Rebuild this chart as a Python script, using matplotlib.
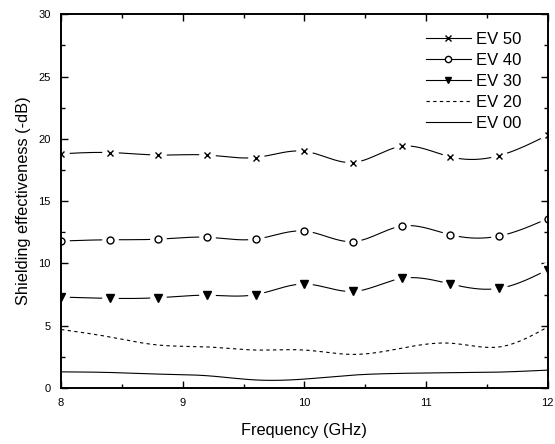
import numpy as np
import matplotlib
matplotlib.use("Agg")
import matplotlib.pyplot as plt
from matplotlib.ticker import MultipleLocator

plt.rcParams['font.family'] = ['Liberation Sans', 'DejaVu Sans']

freq = [8.0, 8.4, 8.8, 9.2, 9.6, 10.0, 10.4, 10.8, 11.2, 11.6, 12.0]
ev50 = [18.8, 18.9, 18.7, 18.7, 18.5, 19.0, 18.1, 19.4, 18.55, 18.65, 20.3]
ev40 = [11.8, 11.9, 11.95, 12.1, 11.95, 12.6, 11.75, 13.0, 12.3, 12.2, 13.6]
ev30 = [7.3, 7.2, 7.25, 7.45, 7.5, 8.35, 7.75, 8.8, 8.35, 8.0, 9.5]
ev20 = [4.7, 4.1, 3.45, 3.3, 3.05, 3.05, 2.7, 3.2, 3.6, 3.3, 4.9]
ev00 = [1.3, 1.25, 1.12, 0.99, 0.65, 0.72, 1.04, 1.18, 1.23, 1.28, 1.44]
labels = ['EV 50', 'EV 40', 'EV 30', 'EV 20', 'EV 00']


def spline(x, y, n=400):
    """Natural cubic spline through the measured points."""
    x = np.asarray(x, float)
    y = np.asarray(y, float)
    m = len(x)
    h = np.diff(x)
    A = np.zeros((m, m))
    b = np.zeros(m)
    A[0, 0] = A[-1, -1] = 1.0
    for i in range(1, m - 1):
        A[i, i - 1] = h[i - 1]
        A[i, i] = 2 * (h[i - 1] + h[i])
        A[i, i + 1] = h[i]
        b[i] = 3 * ((y[i + 1] - y[i]) / h[i] - (y[i] - y[i - 1]) / h[i - 1])
    c = np.linalg.solve(A, b)
    xs = np.linspace(x[0], x[-1], n)
    idx = np.clip(np.searchsorted(x, xs) - 1, 0, m - 2)
    dx = xs - x[idx]
    bb = (y[idx + 1] - y[idx]) / h[idx] - h[idx] * (2 * c[idx] + c[idx + 1]) / 3
    dd = (c[idx + 1] - c[idx]) / (3 * h[idx])
    ys = y[idx] + bb * dx + c[idx] * dx ** 2 + dd * dx ** 3
    return xs, ys


fig = plt.figure(figsize=(5.55, 4.44), dpi=100)
ax = fig.add_axes([0.110, 0.126, 0.877, 0.842])

series = [ev50, ev40, ev30, ev20, ev00]
markers = ['x', 'o', 'v', None, None]
styles = ['-', '-', '-', (0, (3, 3)), '-']
handles = []
for vals, mk, ls, lab in zip(series, markers, styles, labels):
    xs, ys = spline(freq, vals)
    ax.plot(xs, ys, color='black', lw=0.8, ls=ls, zorder=2)
    if mk is not None:
        # white halo leaves a small gap in the curve around each marker
        ax.plot(freq, vals, ls='none', marker='o', ms=12, mfc='white',
                mec='none', zorder=3)
        if mk == 'x':
            ax.plot(freq, vals, ls='none', marker='x', ms=5, mew=1.0,
                    color='black', zorder=4)
        elif mk == 'o':
            ax.plot(freq, vals, ls='none', marker='o', ms=5, mew=1.0,
                    mfc='white', mec='black', zorder=4)
        else:
            ax.plot(freq, vals, ls='none', marker='v', ms=6,
                    color='black', zorder=4)
    h, = ax.plot([], [], color='black', lw=0.8, ls=ls, marker=mk,
                 ms=4.5, mfc='white' if mk == 'o' else 'black',
                 mec='black', mew=1.0, label=lab)
    handles.append(h)

ax.set_xlim(8, 12)
ax.set_ylim(0, 30)
ax.xaxis.set_major_locator(MultipleLocator(1))
ax.xaxis.set_minor_locator(MultipleLocator(0.5))
ax.yaxis.set_major_locator(MultipleLocator(5))
ax.yaxis.set_minor_locator(MultipleLocator(2.5))
ax.tick_params(which='both', direction='in', top=True, right=True,
               labelsize=8, width=1.0)
ax.tick_params(which='major', length=5)
ax.tick_params(which='minor', length=3)
ax.tick_params(axis='x', which='major', pad=7)
ax.tick_params(axis='y', which='major', pad=7.5)
for s in ax.spines.values():
    s.set_linewidth(1.4)
    s.set_zorder(5)

ax.set_xlabel('Frequency (GHz)', fontsize=11.8, labelpad=11)
ax.set_ylabel('Shielding effectiveness (-dB)', fontsize=11.8, labelpad=5)

ax.legend(handles=handles, loc='upper right', frameon=False, fontsize=12,
          handlelength=2.7, handletextpad=0.3, labelspacing=0.36,
          borderaxespad=0.0, borderpad=0.0, bbox_to_anchor=(0.945, 0.953))

fig.savefig('out.png', dpi=100)
